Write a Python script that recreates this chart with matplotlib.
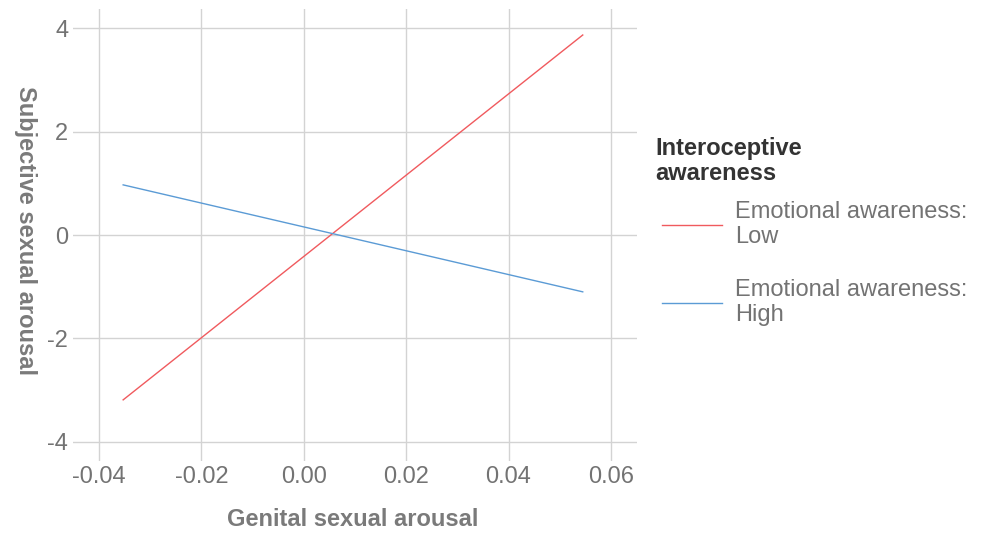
import matplotlib
matplotlib.use("Agg")
import matplotlib.pyplot as plt
from matplotlib.lines import Line2D

plt.rcParams['font.family'] = ['Liberation Sans', 'DejaVu Sans']

# Predicted subjective arousal at the ends of the genital arousal range
genital = [-0.0353, 0.0545]
low_awareness = [-3.19, 3.87]
high_awareness = [0.97, -1.10]

series_labels = ["Emotional awareness:\nLow", "Emotional awareness:\nHigh"]
series_colors = ["#F05A5E", "#5B9BD5"]

x_ticks = [-0.04, -0.02, 0.00, 0.02, 0.04, 0.06]
x_tick_labels = ["-0.04", "-0.02", "0.00", "0.02", "0.04", "0.06"]
y_ticks = [-4, -2, 0, 2, 4]
y_tick_labels = ["-4", "-2", "0", "2", "4"]

W, H = 984, 533
FS = 17
fig = plt.figure(figsize=(W / 100, H / 100), dpi=100)
ax = fig.add_axes([73 / W, 1 - 461 / H, (637 - 73) / W, (461 - 9) / H])

ax.plot(genital, low_awareness, color=series_colors[0], lw=1.0)
ax.plot(genital, high_awareness, color=series_colors[1], lw=1.0)

ax.set_xlim(-0.0451, 0.0651)
ax.set_ylim(-4.373, 4.373)
ax.set_xticks(x_ticks)
ax.set_xticklabels(x_tick_labels)
ax.set_yticks(y_ticks)
ax.set_yticklabels(y_tick_labels)
ax.grid(True, color="#d3d3d3", lw=1.0)
ax.set_axisbelow(True)
for s in ax.spines.values():
    s.set_visible(False)
ax.tick_params(length=0, labelsize=FS, labelcolor="#737373", pad=3.5)

fig.text(353 / W, 1 - 520 / H, "Genital sexual arousal", ha="center", va="center",
         fontsize=FS, fontweight="bold", color="#7a7a7a")
fig.text(25 / W, 1 - 231 / H, "Subjective sexual arousal", ha="center", va="center",
         rotation=-90, fontsize=FS, fontweight="bold", color="#7a7a7a")

fig.text(655 / W, 1 - 161 / H, "Interoceptive\nawareness", ha="left", va="center",
         fontsize=FS, fontweight="bold", color="#333333", linespacing=1.1)

handles = [Line2D([], [], color=c, lw=1.0) for c in series_colors]
leg = fig.legend(handles, series_labels, loc="upper left",
                 bbox_to_anchor=(662 / W, 1 - 201 / H), frameon=False,
                 fontsize=FS, handlelength=2.55, handletextpad=0.55,
                 labelspacing=1.3, borderaxespad=0, borderpad=0)
for t in leg.get_texts():
    t.set_color("#737373")
    t.set_linespacing(1.2)

fig.savefig("out.png", dpi=100)
